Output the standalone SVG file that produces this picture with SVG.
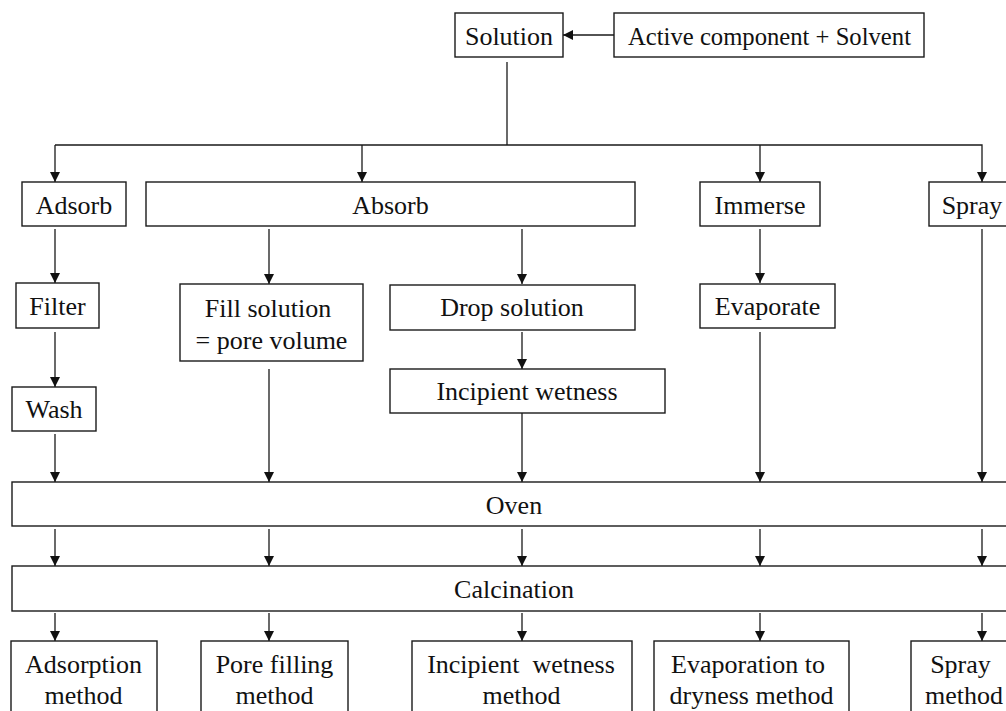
<svg xmlns="http://www.w3.org/2000/svg" width="1006" height="711" viewBox="0 0 1006 711">
<style>
.box{fill:#fff;stroke:#1a1a1a;stroke-width:1.4}
.t{font-family:"Liberation Serif","Times New Roman",serif;font-size:26px;fill:#111;text-anchor:middle}
.c{fill:none;stroke:#1a1a1a;stroke-width:1.3}
</style>
<defs>
<marker id="ah" markerWidth="11" markerHeight="11" refX="10" refY="5" orient="auto" markerUnits="userSpaceOnUse">
<path d="M0,0 L10,5 L0,10 z" fill="#111"/>
</marker>
</defs>
<rect width="1006" height="711" fill="#fff"/>
<g id="connectors">
<line class="c" x1="614" y1="35" x2="563" y2="35" marker-end="url(#ah)"/>
<line class="c" x1="507" y1="62" x2="507" y2="145"/>
<polyline class="c" points="55,145 982,145 982,182" marker-end="url(#ah)"/>
<line class="c" x1="55" y1="145" x2="55" y2="182" marker-end="url(#ah)"/>
<line class="c" x1="362" y1="145" x2="362" y2="182" marker-end="url(#ah)"/>
<line class="c" x1="760" y1="145" x2="760" y2="182" marker-end="url(#ah)"/>
<line class="c" x1="55" y1="229" x2="55" y2="283" marker-end="url(#ah)"/>
<line class="c" x1="55" y1="332" x2="55" y2="387" marker-end="url(#ah)"/>
<line class="c" x1="55" y1="434" x2="55" y2="482" marker-end="url(#ah)"/>
<line class="c" x1="269" y1="229" x2="269" y2="284" marker-end="url(#ah)"/>
<line class="c" x1="269" y1="369" x2="269" y2="482" marker-end="url(#ah)"/>
<line class="c" x1="522" y1="229" x2="522" y2="284" marker-end="url(#ah)"/>
<line class="c" x1="522" y1="332" x2="522" y2="369" marker-end="url(#ah)"/>
<line class="c" x1="522" y1="407" x2="522" y2="482" marker-end="url(#ah)"/>
<line class="c" x1="760" y1="229" x2="760" y2="283" marker-end="url(#ah)"/>
<line class="c" x1="760" y1="332" x2="760" y2="482" marker-end="url(#ah)"/>
<line class="c" x1="982" y1="229" x2="982" y2="482" marker-end="url(#ah)"/>
<line class="c" x1="55" y1="529" x2="55" y2="566" marker-end="url(#ah)"/>
<line class="c" x1="269" y1="529" x2="269" y2="566" marker-end="url(#ah)"/>
<line class="c" x1="522" y1="529" x2="522" y2="566" marker-end="url(#ah)"/>
<line class="c" x1="760" y1="529" x2="760" y2="566" marker-end="url(#ah)"/>
<line class="c" x1="982" y1="529" x2="982" y2="566" marker-end="url(#ah)"/>
<line class="c" x1="55" y1="613" x2="55" y2="641" marker-end="url(#ah)"/>
<line class="c" x1="269" y1="613" x2="269" y2="641" marker-end="url(#ah)"/>
<line class="c" x1="522" y1="613" x2="522" y2="641" marker-end="url(#ah)"/>
<line class="c" x1="760" y1="613" x2="760" y2="641" marker-end="url(#ah)"/>
<line class="c" x1="982" y1="613" x2="982" y2="641" marker-end="url(#ah)"/>
</g>
<g id="solution"><rect class="box" x="455" y="13" width="108" height="44"/><text class="t" x="509" y="45">Solution</text></g>
<g id="active"><rect class="box" x="614" y="13" width="310" height="44"/><text class="t" x="769.5" y="45" textLength="283" lengthAdjust="spacingAndGlyphs">Active component + Solvent</text></g>
<g id="adsorb"><rect class="box" x="22" y="182" width="104" height="44"/><text class="t" x="74" y="214">Adsorb</text></g>
<g id="absorb"><rect class="box" x="146" y="182" width="489" height="44"/><text class="t" x="390.5" y="214">Absorb</text></g>
<g id="immerse"><rect class="box" x="700" y="182" width="120" height="44"/><text class="t" x="760" y="214">Immerse</text></g>
<g id="spray"><rect class="box" x="929" y="182" width="90" height="44"/><text class="t" x="972" y="214">Spray</text></g>
<g id="filter"><rect class="box" x="16" y="283" width="83" height="45"/><text class="t" x="57.5" y="315">Filter</text></g>
<g id="wash"><rect class="box" x="12" y="387" width="84" height="44"/><text class="t" x="54" y="418">Wash</text></g>
<g id="fill"><rect class="box" x="180" y="284" width="183" height="77"/><text class="t" x="268" y="316.5">Fill solution</text><text class="t" x="271.5" y="348.5">= pore volume</text></g>
<g id="drop"><rect class="box" x="390" y="285" width="245" height="45"/><text class="t" x="512" y="316">Drop solution</text></g>
<g id="incipient"><rect class="box" x="390" y="369" width="275" height="44"/><text class="t" x="527" y="400">Incipient wetness</text></g>
<g id="evaporate"><rect class="box" x="700" y="284" width="135" height="44"/><text class="t" x="767.5" y="315">Evaporate</text></g>
<g id="oven"><rect class="box" x="12" y="482" width="1010" height="44"/><text class="t" x="514" y="514">Oven</text></g>
<g id="calcination"><rect class="box" x="12" y="566" width="1010" height="45"/><text class="t" x="514" y="597.5">Calcination</text></g>
<g id="m-adsorption"><rect class="box" x="11" y="641" width="146" height="80"/><text class="t" x="83.5" y="672.5">Adsorption</text><text class="t" x="83.5" y="703.5">method</text></g>
<g id="m-pore"><rect class="box" x="201" y="641" width="147" height="80"/><text class="t" x="274.5" y="672.5">Pore filling</text><text class="t" x="274.5" y="703.5">method</text></g>
<g id="m-incipient"><rect class="box" x="412" y="641" width="220" height="80"/><text class="t" x="521" y="672.5" xml:space="preserve">Incipient  wetness</text><text class="t" x="521.5" y="703.5">method</text></g>
<g id="m-evaporation"><rect class="box" x="654" y="641" width="195" height="80"/><text class="t" x="748" y="672.5">Evaporation to</text><text class="t" x="751.5" y="703.5">dryness method</text></g>
<g id="m-spray"><rect class="box" x="911" y="641" width="110" height="80"/><text class="t" x="960.5" y="672.5">Spray</text><text class="t" x="964" y="703.5">method</text></g>
</svg>
